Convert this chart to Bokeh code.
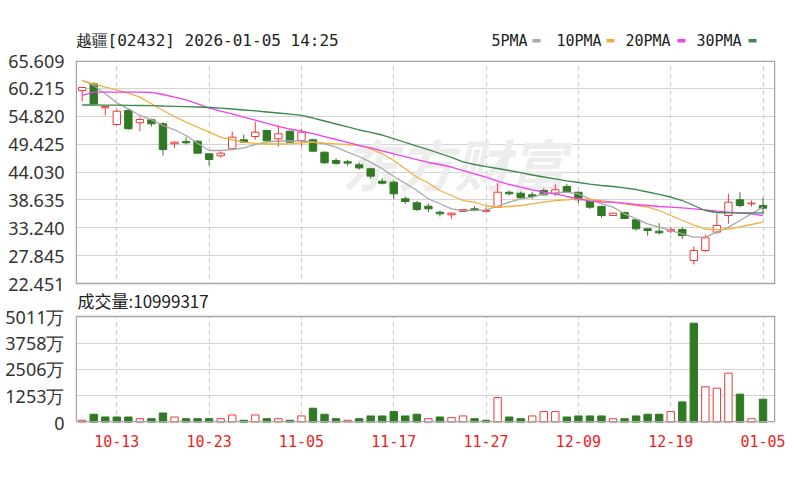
from bokeh.plotting import figure
from bokeh.layouts import column
from bokeh.models import (Range1d, FixedTicker, ColumnDataSource, CustomJSTickFormatter)
from bokeh.core.properties import value
from bokeh.embed import file_html
from bokeh.resources import INLINE

# ---------------- data ----------------
title_text = "越疆[02432] 2026-01-05 14:25"
last_volume = 10999317

dates = ["10-08", "10-09", "10-10", "10-13", "10-14", "10-15", "10-16", "10-17", "10-20", "10-21",
         "10-22", "10-23", "10-24", "10-27", "10-28", "10-30", "10-31", "11-03", "11-04", "11-05",
         "11-06", "11-07", "11-10", "11-11", "11-12", "11-13", "11-14", "11-17", "11-18", "11-19",
         "11-20", "11-21", "11-24", "11-25", "11-26", "11-27", "11-28", "12-01", "12-02", "12-03",
         "12-04", "12-05", "12-08", "12-09", "12-10", "12-11", "12-12", "12-15", "12-16", "12-17",
         "12-18", "12-19", "12-22", "12-23", "12-24", "12-29", "12-30", "12-31", "01-02", "01-05"]

open_ = [59.80, 61.10, 56.45, 53.22, 55.93, 53.55, 54.13, 53.36, 49.49, 49.93,
         49.99, 47.55, 47.17, 48.52, 50.26, 50.90, 52.06, 50.45, 51.93, 50.13,
         50.26, 47.86, 46.26, 46.00, 45.42, 44.65, 42.25, 42.06, 38.84, 38.07,
         37.41, 36.25, 35.75, 36.38, 36.90, 36.42, 37.22, 40.12, 39.93, 39.61,
         40.45, 39.81, 41.22, 40.12, 38.38, 37.35, 35.61, 36.19, 34.78, 33.04,
         32.58, 32.58, 32.90, 26.90, 28.84, 32.39, 35.61, 38.65, 37.87, 37.55]
high_ = [60.45, 61.40, 56.80, 56.13, 56.26, 54.64, 54.38, 53.67, 49.93, 50.77,
         50.18, 47.61, 48.00, 51.87, 51.29, 53.80, 52.25, 53.03, 52.06, 52.39,
         50.45, 47.99, 46.70, 46.39, 45.81, 44.84, 42.83, 42.39, 39.29, 38.38,
         37.88, 36.58, 36.19, 36.90, 37.41, 37.22, 41.86, 40.45, 40.25, 40.12,
         40.89, 41.61, 41.74, 40.25, 38.52, 37.55, 36.10, 36.38, 34.90, 33.10,
         34.12, 33.35, 33.35, 29.61, 31.93, 35.94, 39.81, 40.12, 38.52, 39.04]
low_ = [57.67, 57.20, 54.96, 53.03, 52.20, 51.93, 52.84, 47.22, 48.71, 49.35,
        47.67, 45.29, 46.78, 48.52, 49.74, 50.30, 50.00, 48.97, 49.80, 48.97,
        47.99, 45.62, 45.42, 45.29, 44.46, 42.71, 41.61, 38.84, 37.88, 36.44,
        36.25, 35.42, 34.97, 36.30, 36.44, 36.38, 37.16, 39.48, 38.96, 38.84,
        39.48, 39.35, 40.00, 37.99, 36.90, 35.17, 35.55, 35.00, 32.71, 31.74,
        31.93, 32.18, 31.10, 26.13, 28.51, 32.07, 34.00, 37.22, 37.35, 35.94]
close_ = [60.38, 57.20, 56.71, 55.80, 52.39, 54.19, 53.36, 48.39, 49.80, 49.68,
          47.67, 46.45, 47.67, 50.77, 49.80, 51.73, 50.07, 51.42, 49.80, 51.73,
          48.06, 45.81, 45.70, 45.75, 44.84, 43.22, 41.86, 39.81, 38.32, 36.77,
          36.90, 35.94, 36.06, 36.77, 36.65, 36.55, 40.12, 39.81, 39.04, 39.29,
          39.61, 40.58, 40.12, 38.65, 37.22, 35.61, 36.06, 35.03, 33.04, 32.71,
          32.26, 32.90, 31.74, 28.84, 31.29, 33.68, 38.19, 37.55, 38.00, 37.03]

# volume in 万 (10k shares)
volume_wan = [105, 390, 260, 260, 260, 180, 180, 450, 260, 180,
              180, 180, 180, 355, 105, 355, 180, 180, 105, 310,
              675, 390, 180, 105, 180, 310, 310, 515, 310, 390,
              180, 260, 230, 310, 180, 105, 1180, 260, 180, 310,
              515, 515, 260, 310, 310, 310, 180, 180, 310, 390,
              390, 515, 975, 4695, 1690, 1625, 2335, 1340, 180, last_volume / 10000]

ma5 = [61.74, 60.77, 59.17, 57.42, 56.26, 54.97, 54.13, 53.03, 52.20, 51.09,
       49.60, 48.19, 48.19, 48.38, 48.71, 49.35, 49.84, 50.03, 50.03, 50.03,
       49.80, 49.49, 48.83, 47.86, 47.03, 45.93, 44.65, 43.16, 41.86, 40.45,
       38.84, 37.88, 36.91, 36.58, 36.58, 36.71, 37.41, 38.19, 38.84, 39.15,
       39.81, 40.00, 40.12, 39.81, 38.84, 37.88, 37.22, 35.94, 34.97, 34.00,
       33.35, 32.71, 32.07, 31.41, 31.41, 32.38, 33.35, 34.64, 35.94, 37.22]
ma10 = [61.74, 61.10, 60.44, 59.94, 59.28, 58.51, 57.23, 55.93, 54.77, 53.67,
        52.70, 51.73, 50.77, 50.26, 49.80, 49.55, 49.45, 49.45, 49.49, 49.68,
        49.80, 49.60, 49.49, 49.35, 49.16, 48.52, 47.55, 46.26, 44.65, 43.02,
        41.90, 40.45, 39.48, 38.51, 38.22, 37.45, 37.26, 37.35, 37.55, 37.88,
        38.19, 38.51, 38.65, 38.84, 38.71, 38.51, 38.19, 37.88, 37.55, 37.22,
        36.58, 35.61, 34.64, 33.77, 33.00, 32.81, 33.00, 33.39, 33.87, 34.31]
ma20 = [58.84, 59.47, 59.47, 59.47, 59.47, 59.47, 59.42, 59.03, 58.51, 58.00,
        57.23, 56.46, 55.80, 55.29, 54.64, 54.09, 53.42, 52.84, 52.35, 51.93,
        51.44, 50.88, 50.32, 49.76, 49.20, 48.68, 48.11, 47.55, 46.99, 46.43,
        45.87, 45.48, 44.96, 44.32, 43.68, 43.02, 42.25, 41.61, 41.09, 40.59,
        40.12, 39.81, 39.29, 38.84, 38.38, 38.22, 38.19, 37.99, 37.74, 37.55,
        37.35, 37.22, 37.10, 36.91, 36.71, 36.44, 36.25, 36.06, 35.94, 35.61]
ma30 = [57.00, 57.00, 56.98, 56.96, 56.94, 56.90, 56.86, 56.80, 56.75, 56.69,
        56.61, 56.51, 56.38, 56.22, 56.03, 55.84, 55.64, 55.45, 55.22, 54.97,
        54.48, 53.90, 53.32, 52.74, 52.16, 51.68, 51.19, 50.51, 49.74, 49.06,
        48.38, 47.61, 46.84, 45.97, 45.48, 45.09, 44.71, 44.32, 43.93, 43.45,
        43.06, 42.68, 42.33, 42.00, 41.67, 41.42, 41.22, 40.97, 40.64, 40.16,
        39.68, 39.19, 38.51, 37.55, 36.58, 36.19, 36.13, 36.13, 36.13, 36.13]

price_ticks = [22.451, 27.845, 33.240, 38.635, 44.030, 49.425, 54.820, 60.215, 65.609]
volume_ticks = [0, 1253, 2506, 3758, 5011]
ma_names = ["5PMA", "10PMA", "20PMA", "30PMA"]

# ---------------- style / layout ----------------
RED = "#f03838"
GREEN = "#2f7a22"
MA_COLORS = ["#a8a8a8", "#f0b03c", "#f040f0", "#3a8a4a"]
GRID = "#d4d4d4"
VGRID = "#c8c8c8"
OUTLINE = "#a6a6a6"
W = 790
FL, FR = 75, 775              # frame left / right (page px)
FT, FB = 60, 283              # price panel top / bottom (page px)
VT, VB = 316, 422             # volume panel top / bottom (page px)
Y_HEAD = 49                   # header figure: 0..49, main figure: 49..472
Y_END = 472
X0, X1 = -0.58, 60.08

n = len(close_)
idx = list(range(n))

# one frame (page y 60..422) holds both panels: price on the main range,
# volume on an extra range, each scaled so that its panel sits where it should
P_HI, P_LO = price_ticks[-1], price_ticks[0]
kp = (P_HI - P_LO) / (FB - FT)                 # price units per pixel
P0 = P_HI - (VB - FT) * kp                     # price value at frame bottom
kv = (volume_ticks[-1] - volume_ticks[0]) / (VB - VT)
V1 = volume_ticks[0] + (VB - FT) * kv          # volume value at frame top
kx = (X1 - X0) / (FR - FL)


def vol_in_price(vv):
    return P0 + (vv - volume_ticks[0]) / (V1 - volume_ticks[0]) * (P_HI - P0)


def price_at_px(py):
    return P_HI - (py - FT) * kp


up = [c >= o for o, c in zip(open_, close_)]
candles = ColumnDataSource(dict(
    x=idx, high=high_, low=low_,
    top=[max(o, c) for o, c in zip(open_, close_)],
    bottom=[min(o, c) for o, c in zip(open_, close_)],
    line=[RED if u else GREEN for u in up],
    fill=["white" if u else GREEN for u in up],
))
vup = [up[0] if i == 0 else close_[i] >= close_[i - 1] for i in range(n)]
vols = ColumnDataSource(dict(
    x=idx, top=volume_wan,
    line=[RED if u else GREEN for u in vup],
    fill=["white" if u else GREEN for u in vup],
))
tick_idx = list(range(3, n, 8))

# ---------------- header: title + legend (page-pixel coordinates) ----------------
hdr = figure(width=W, height=Y_HEAD, x_range=Range1d(FL, FR), y_range=Range1d(Y_HEAD, 0),
             toolbar_location=None, output_backend="svg",
             min_border_left=FL, min_border_right=W - FR, min_border_top=0, min_border_bottom=0,
             x_axis_location=None, y_axis_location=None)
hdr.outline_line_color = None
hdr.grid.visible = False
hdr.text(x=[FL], y=[40], text=[title_text], text_font=value("DejaVu Sans Mono"),
         text_font_size="16px", text_color="#222222", text_baseline="middle")
leg_text_x = [491, 556, 625, 696]
leg_mark_x = [536, 610, 681, 752]
hdr.text(x=leg_text_x, y=[40.5] * 4, text=ma_names, text_font=value("DejaVu Sans Mono"),
         text_font_size="15px", text_color="#222222", text_baseline="middle")
hdr.rect(x=leg_mark_x, y=[40.3] * 4, width=8, height=3.5, fill_color=MA_COLORS,
         line_color=None)

# ---------------- main figure: price + volume ----------------
m = figure(width=W, height=Y_END - Y_HEAD, x_range=Range1d(X0, X1),
           y_range=Range1d(P0, P_HI),
           toolbar_location=None, output_backend="svg",
           min_border_left=FL, min_border_right=W - FR,
           min_border_top=FT - Y_HEAD, min_border_bottom=Y_END - VB)
m.extra_y_ranges = {"vol": Range1d(volume_ticks[0], V1)}
m.background_fill_color = "white"
m.border_fill_color = "white"
m.outline_line_color = None

tick_pos = price_ticks + [vol_in_price(t) for t in volume_ticks]
tick_lab = [f"{t:.3f}" for t in price_ticks] + \
           ["0" if t == 0 else f"{t}万" for t in volume_ticks]
ya = m.yaxis[0]
ya.ticker = FixedTicker(ticks=tick_pos)
ya.formatter = CustomJSTickFormatter(args=dict(pos=tick_pos, labs=tick_lab), code="""
    let best = 0, d = 1e9;
    for (let i = 0; i < pos.length; i++) {
        const e = Math.abs(pos[i] - tick);
        if (e < d) { d = e; best = i; }
    }
    return labs[best];
""")
ya.axis_line_color = None
ya.major_tick_line_color = None
ya.minor_tick_line_color = None
ya.major_label_standoff = 5
ya.major_label_text_font = "Noto Sans"
ya.major_label_text_font_size = "18px"
ya.major_label_text_color = "#333333"
m.ygrid.grid_line_color = GRID
m.ygrid.grid_line_width = 1.2

xa = m.xaxis[0]
xa.ticker = FixedTicker(ticks=tick_idx)
xa.formatter = CustomJSTickFormatter(args=dict(labels=dates),
                                     code="return labels[Math.round(tick)] || ''")
xa.axis_line_color = None
xa.major_tick_line_color = None
xa.minor_tick_line_color = None
xa.major_label_standoff = 6
xa.major_label_text_font = "DejaVu Sans Mono"
xa.major_label_text_font_size = "15px"
xa.major_label_text_color = "#ee2222"
m.xgrid.grid_line_color = VGRID
m.xgrid.grid_line_dash = "4 4"
m.xgrid.grid_line_width = 1.2

# blank band between the two panels (hides grid lines there)
m.quad(left=[X0], right=[X1], bottom=[P_LO], top=[vol_in_price(volume_ticks[-1])],
       fill_color="white", line_color=None)

# watermark
m.text(x=[32.2], y=[45.8], text=["东方财富"], text_font=value("Noto Sans CJK SC"),
       text_font_size="56px", text_font_style="bold italic", text_color="#ededed",
       text_align="center", text_baseline="middle")

# candles + moving averages
m.segment(x0="x", y0="high", x1="x", y1="low", line_color="line", line_width=1, source=candles)
m.vbar(x="x", width=0.64, top="top", bottom="bottom", fill_color="fill",
       line_color="line", line_width=1, source=candles)
for ma, col in zip([ma5, ma10, ma20, ma30], MA_COLORS):
    m.line(idx, ma, line_color=col, line_width=1.3)

# volume bars
m.vbar(x="x", width=0.64, top="top", bottom=0, fill_color="fill", line_color="line",
       line_width=1, source=vols, y_range_name="vol")

# panel borders
ex = 0.75 * kx
m.quad(left=[X0 + ex], right=[X1 - ex], bottom=[P_LO], top=[P_HI - 0.75 * kp],
       fill_color=None, line_color=OUTLINE, line_width=1.5)
m.quad(left=[X0 + ex], right=[X1 - ex], bottom=[volume_ticks[0] + 0.75 * kv],
       top=[volume_ticks[-1]], fill_color=None, line_color=OUTLINE, line_width=1.5,
       y_range_name="vol")

# volume caption in the band
m.text(x=[X0 + 2 * kx], y=[price_at_px(300)], text=[f"成交量:{last_volume}"],
       text_font=value("Noto Sans CJK SC"), text_font_size="17px",
       text_color="#222222", text_baseline="middle")

layout = column(hdr, m, spacing=0)
open("out.html", "w").write(file_html(layout, INLINE))
